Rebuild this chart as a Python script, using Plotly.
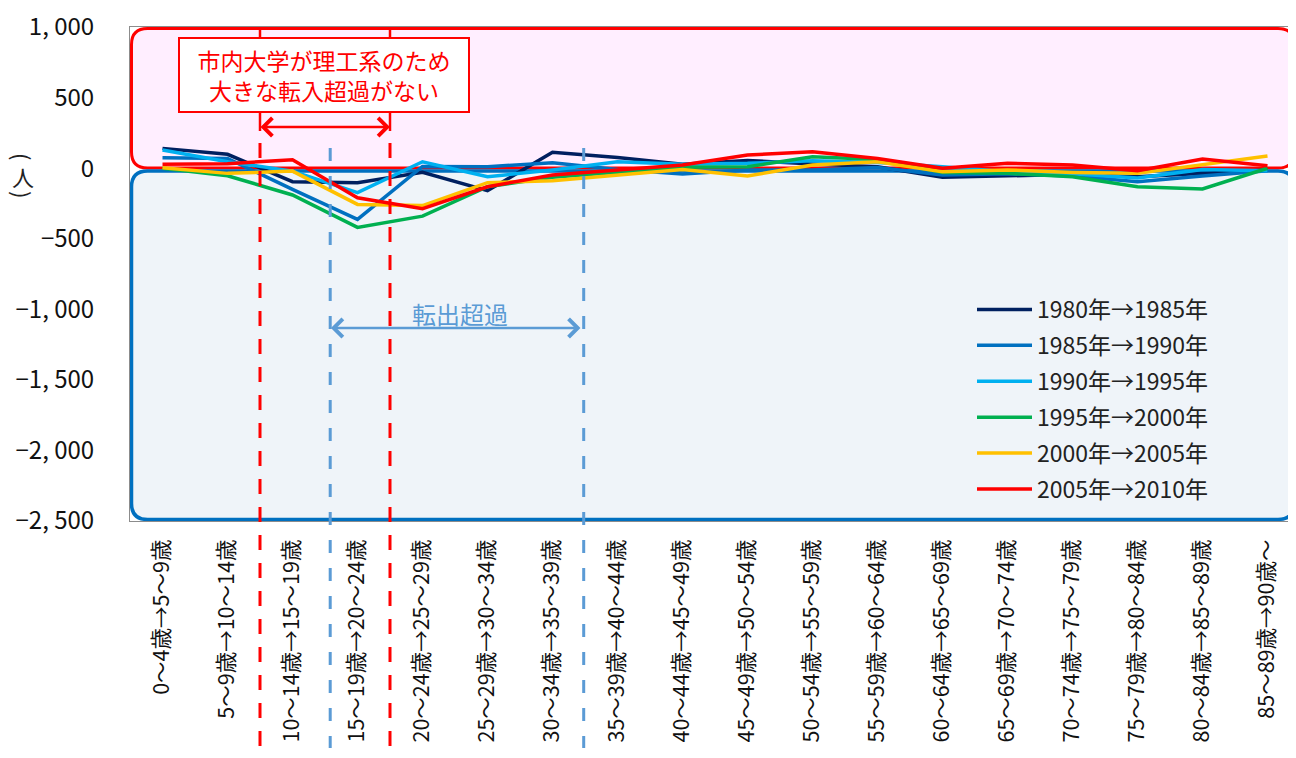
import plotly.graph_objects as go

# age groups (from -> to)
age_from = ["0～4歳", "5～9歳", "10～14歳", "15～19歳", "20～24歳", "25～29歳",
            "30～34歳", "35～39歳", "40～44歳", "45～49歳", "50～54歳", "55～59歳",
            "60～64歳", "65～69歳", "70～74歳", "75～79歳", "80～84歳", "85～89歳"]
age_to = ["5～9歳", "10～14歳", "15～19歳", "20～24歳", "25～29歳", "30～34歳",
          "35～39歳", "40～44歳", "45～49歳", "50～54歳", "55～59歳", "60～64歳",
          "65～69歳", "70～74歳", "75～79歳", "80～84歳", "85～89歳", "90歳～"]
categories = [f"{a}→{b}" for a, b in zip(age_from, age_to)]

# net migration (persons)
v_1980_1985 = [140, 98, -96, -103, -30, -160, 112, 76, 27, 55, 30, 10, -65, -56, -44, -61, -37, -13]
v_1985_1990 = [74, 69, -150, -363, 12, 10, 38, -10, -42, -13, -13, 5, -49, -40, -55, -96, -56, -18]
v_1990_1995 = [128, 45, -21, -174, 45, -61, -13, 45, 27, 34, 52, 40, 10, -25, -40, -70, -9, -18]
v_1995_2000 = [0, -54, -190, -420, -340, -132, -65, -30, 6, 10, 81, 62, -30, -37, -61, -132, -148, -1]
v_2000_2005 = [3, -37, -21, -257, -265, -103, -89, -49, -9, -56, 22, 45, -25, -13, -30, -37, 22, 86]
v_2005_2010 = [27, 32, 60, -210, -287, -132, -49, -13, 22, 93, 116, 69, -1, 34, 22, -18, 64, 17]

series_names = ["1980年→1985年", "1985年→1990年", "1990年→1995年",
                "1995年→2000年", "2000年→2005年", "2005年→2010年"]
series_values = [v_1980_1985, v_1985_1990, v_1990_1995, v_1995_2000, v_2000_2005, v_2005_2010]
series_colors = ["#002060", "#0070C0", "#00B0F0", "#00B050", "#FFC000", "#FF0000"]

y_ticks = [1000, 500, 0, -500, -1000, -1500, -2000, -2500]
y_ticktext = ["1, 000", "500", "0", "−500", "−1, 000", "−1, 500", "−2, 000", "−2, 500"]

FONT = "Noto Sans CJK JP"
W, H = 1296, 758
OFF = 8  # page body margin: figure is drawn 8px right/down in the window
ML, MR, MT, MB = 122, 0, 19, 245
PW, PH = W - ML - MR, H - MT - MB


# helpers take window pixel positions and return paper coords
def px_x(px):
    return (px - OFF - ML) / PW


def px_y(py):
    return (H - MB - (py - OFF)) / PH


def rounded_rect(x0, y0, x1, y1, r):
    a, b, c, d = px_x(x0), px_y(y1), px_x(x1), px_y(y0)
    rx, ry = r / PW, r / PH
    return (f"M{a + rx},{b} L{c - rx},{b} Q{c},{b} {c},{b + ry} L{c},{d - ry} "
            f"Q{c},{d} {c - rx},{d} L{a + rx},{d} Q{a},{d} {a},{d - ry} "
            f"L{a},{b + ry} Q{a},{b} {a + rx},{b} Z")


fig = go.Figure()

for i, (name, vals, col) in enumerate(zip(series_names, series_values, series_colors)):
    fig.add_trace(go.Scatter(
        x=list(range(len(categories))), y=vals, mode="lines", name=name,
        legendgroup=f"g{i}", line=dict(color=col, width=3.5)))

shapes = [
    # pink / blue background boxes
    dict(type="path", xref="paper", yref="paper", layer="below",
         path=rounded_rect(131.5, 28.5, 1294, 168, 16),
         fillcolor="#FFEEFF", line=dict(color="#FF0000", width=3)),
    dict(type="path", xref="paper", yref="paper", layer="below",
         path=rounded_rect(131.5, 171, 1294, 519.5, 16),
         fillcolor="#EFF4F9", line=dict(color="#0070C0", width=3.5)),
]
# red markers (15~19 -> 20~24 boundaries)
for xv in [1.5, 3.5]:
    shapes.append(dict(type="line", xref="x", yref="paper", x0=xv, x1=xv,
                       y0=px_y(28), y1=px_y(38), line=dict(color="#FF0000", width=2.5)))
    shapes.append(dict(type="line", xref="x", yref="paper", x0=xv, x1=xv,
                       y0=px_y(113), y1=px_y(131), line=dict(color="#FF0000", width=2.5)))
    shapes.append(dict(type="line", xref="x", yref="paper", x0=xv, x1=xv,
                       y0=px_y(143), y1=px_y(770),
                       line=dict(color="#FF0000", width=3, dash="15px,13px")))
# blue dashed (転出超過)
for xv in [2.58, 6.48]:
    shapes.append(dict(type="line", xref="x", yref="paper", x0=xv, x1=xv,
                       y0=px_y(148), y1=px_y(748),
                       line=dict(color="#5B9BD5", width=3, dash="13px,15px")))

unit_font = dict(family=FONT, size=22, color="#222222")
annotations = [
    dict(xref="paper", yref="paper", x=px_x(324), y=px_y(75.5),
         xanchor="center", yanchor="middle",
         text="市内大学が理工系のため<br>大きな転入超過がない", showarrow=False,
         font=dict(family=FONT, size=23, color="#FF0000"),
         bgcolor="white", bordercolor="#FF0000", borderwidth=2,
         width=286, height=70, borderpad=1),
    # red double arrow
    dict(xref="x", yref="paper", x=3.5, y=px_y(127), ax=-131, ay=0,
         text="", showarrow=True, arrowside="end+start", arrowhead=4, startarrowhead=4,
         arrowsize=1.4, startarrowsize=1.4, arrowwidth=2.5, arrowcolor="#FF0000",
         standoff=0, startstandoff=0),
    # blue double arrow
    dict(xref="x", yref="paper", x=6.43, y=px_y(328), ax=-251, ay=0,
         text="", showarrow=True, arrowside="end+start", arrowhead=4, startarrowhead=4,
         arrowsize=1.4, startarrowsize=1.4, arrowwidth=2.5, arrowcolor="#5B9BD5",
         standoff=0, startstandoff=0),
    dict(xref="paper", yref="paper", x=px_x(460), y=px_y(313), text="転出超過",
         xanchor="center", yanchor="middle",
         showarrow=False, font=dict(family=FONT, size=24, color="#5B9BD5")),
    # y-axis unit （人） written vertically
    dict(xref="paper", yref="paper", x=px_x(23), y=px_y(156), text="(", textangle=90,
         xanchor="center", yanchor="middle", showarrow=False, font=unit_font),
    dict(xref="paper", yref="paper", x=px_x(23), y=px_y(176), text="人",
         xanchor="center", yanchor="middle", showarrow=False, font=unit_font),
    dict(xref="paper", yref="paper", x=px_x(23), y=px_y(194), text=")", textangle=90,
         xanchor="center", yanchor="middle", showarrow=False, font=unit_font),
]

fig.update_layout(
    width=W, height=H,
    margin=dict(l=ML, r=MR, t=MT, b=MB),
    paper_bgcolor="white", plot_bgcolor="white",
    font=dict(family=FONT, size=23, color="#222222"),
    shapes=shapes, annotations=annotations,
    showlegend=True,
    legend=dict(x=px_x(972), y=px_y(288), xanchor="left", yanchor="top",
                bgcolor="rgba(0,0,0,0)", font=dict(family=FONT, size=23, color="#222222"),
                itemwidth=55, tracegroupgap=3),
)
fig.update_xaxes(
    range=[-0.5, -0.5 + PW / 65.0], tickmode="array",
    tickvals=list(range(len(categories))), ticktext=categories,
    tickangle=-90, ticklabelstandoff=9, ticklabeloverflow="allow",
    showgrid=False, zeroline=False,
    showline=True, mirror=True, linecolor="#8C8C8C", linewidth=1, automargin=False,
    tickfont=dict(family=FONT, size=21.5, color="#111111"))
fig.update_yaxes(
    range=[-2500, 1000], tickmode="array", tickvals=y_ticks, ticktext=y_ticktext,
    showgrid=False, zeroline=False, showline=True, linecolor="#8C8C8C", linewidth=1,
    automargin=False, ticklabelstandoff=30, ticklabeloverflow="allow",
    tickfont=dict(family=FONT, size=24, color="#111111"))

fig.write_html("out.html")
